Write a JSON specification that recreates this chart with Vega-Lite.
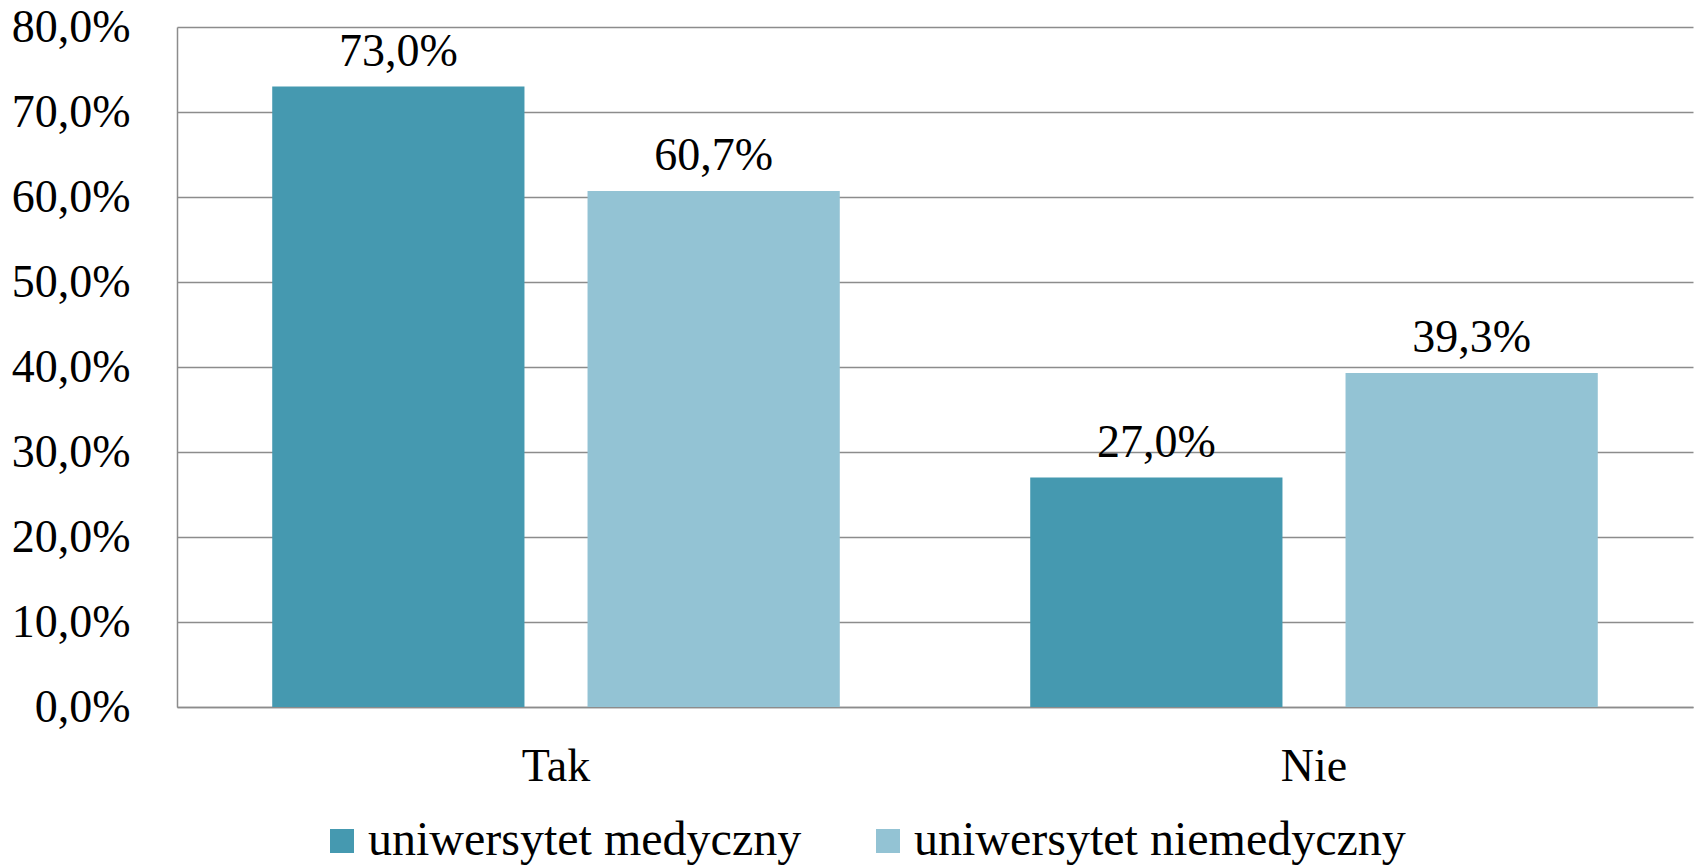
{
  "$schema": "https://vega.github.io/schema/vega-lite/v6.json",
  "autosize": {"type": "none"},
  "width": 1516,
  "height": 680,
  "padding": {"left": 177, "top": 27, "right": 7, "bottom": 158},
  "background": "white",
  "config": {
    "locale": {"number": {"decimal": ",", "thousands": " ", "grouping": [3], "currency": ["", " zł"]}},
    "view": {"stroke": null},
    "font": "Liberation Serif"
  },
  "data": {
    "values": [
      {"odp": "Tak", "grupa": "uniwersytet medyczny", "val": 0.730},
      {"odp": "Tak", "grupa": "uniwersytet niemedyczny", "val": 0.607},
      {"odp": "Nie", "grupa": "uniwersytet medyczny", "val": 0.270},
      {"odp": "Nie", "grupa": "uniwersytet niemedyczny", "val": 0.393}
    ]
  },
  "encoding": {
    "x": {
      "field": "odp", "type": "nominal", "sort": ["Tak", "Nie"],
      "scale": {"paddingInner": 0, "paddingOuter": 0},
      "axis": {
        "title": null, "labelAngle": 0, "ticks": false, "tickSize": 0,
        "labelFont": "Liberation Serif", "labelFontSize": 46, "labelColor": "black",
        "labelBaseline": "alphabetic", "labelPadding": 73,
        "domainColor": "#8c8c8c", "domainWidth": 1.5, "grid": false
      }
    },
    "xOffset": {
      "field": "grupa", "type": "nominal",
      "scale": {"paddingInner": 0.2, "paddingOuter": 0.302}
    },
    "y": {
      "field": "val", "type": "quantitative",
      "scale": {"domain": [0, 0.8], "nice": false},
      "axis": {
        "title": null, "format": ".1%", "values": [0, 0.1, 0.2, 0.3, 0.4, 0.5, 0.6, 0.7, 0.8],
        "ticks": false, "tickSize": 0, "labelPadding": 47,
        "labelFont": "Liberation Serif", "labelFontSize": 46, "labelColor": "black",
        "domainColor": "#8c8c8c", "domainWidth": 1.5,
        "grid": true, "gridColor": "#8c8c8c", "gridWidth": 1.5
      }
    }
  },
  "layer": [
    {
      "mark": {"type": "bar"},
      "encoding": {
        "color": {
          "field": "grupa", "type": "nominal",
          "scale": {"domain": ["uniwersytet medyczny", "uniwersytet niemedyczny"], "range": ["#4599B0", "#93C3D4"]},
          "legend": {
            "title": null, "orient": "none", "direction": "horizontal",
            "legendX": 141, "legendY": 790, "padding": 0,
            "symbolType": "square", "symbolSize": 576, "symbolStrokeWidth": 0,
            "labelFont": "Liberation Serif", "labelFontSize": 48, "labelColor": "black",
            "labelOffset": 2, "columnPadding": 62, "labelLimit": 1000
          }
        }
      }
    },
    {
      "mark": {"type": "text", "baseline": "alphabetic", "dy": -21, "font": "Liberation Serif", "fontSize": 46, "color": "black"},
      "encoding": {
        "text": {"field": "val", "type": "quantitative", "format": ".1%"}
      }
    }
  ]
}
